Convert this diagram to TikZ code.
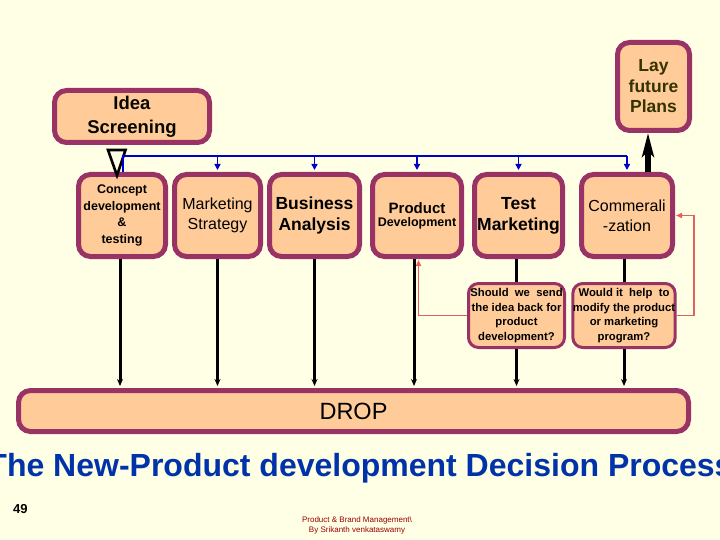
\documentclass[tikz,border=0pt]{standalone}
\usepackage{fontspec}
\setmainfont{Liberation Sans}
\usetikzlibrary{arrows.meta,calc}
\definecolor{bg}{RGB}{255,255,229}
\definecolor{boxfill}{RGB}{255,204,153}
\definecolor{boxbd}{RGB}{153,51,102}
\definecolor{olivetxt}{RGB}{51,51,0}
\definecolor{lineblue}{RGB}{0,0,204}
\definecolor{titleblue}{RGB}{0,51,170}
\definecolor{redline}{RGB}{224,96,96}
\definecolor{footred}{RGB}{153,0,0}
\begin{document}
\begin{tikzpicture}[x=1pt,y=-1pt,
  box/.style={draw=boxbd, fill=boxfill, line width=5pt, rounded corners=12pt, inner sep=0pt, align=center},
  qbox/.style={draw=boxbd, fill=boxfill, line width=3pt, rounded corners=10pt, inner sep=0pt, align=center,
     font=\bfseries\fontsize{11.3}{14.6}\selectfont},
  bluel/.style={draw=lineblue, line width=1.6pt},
  bluetip/.style={-{Triangle[length=6pt,width=6pt]}, shorten >=2pt},
  blk/.style={draw=black, line width=3pt, -{Stealth[length=7pt,width=6pt]}, shorten >=2pt},
  blkplain/.style={draw=black, line width=3pt},
  redl/.style={draw=redline, line width=1.8pt, -{Triangle[length=6pt,width=5pt]}, shorten >=1pt}]
\useasboundingbox (0,0) rectangle (720,540);
\fill[bg] (0,0) rectangle (720,540);
\clip (0,0) rectangle (720,540);

% top boxes
\node[box, minimum width=155pt, minimum height=52pt, text=black!85!olivetxt,
  font=\bfseries\fontsize{18.5}{24}\selectfont] (idea) at (132,116.5) {Idea\\Screening};
\node[box, minimum width=72pt, minimum height=88pt, text=olivetxt,
  font=\bfseries\fontsize{17.5}{20.5}\selectfont] (lay) at (653.5,86.5) {Lay\\future\\Plans};

% row boxes
\node[box, minimum width=87pt, minimum height=82pt, font=\bfseries\fontsize{12.5}{16.5}\selectfont] (concept) at (122,215.5) {Concept\\development\\\&\\testing};
\node[box, minimum width=86pt, minimum height=82pt, font=\fontsize{16}{19.5}\selectfont] (mkt) at (217.5,215.5) {Marketing\\Strategy};
\node[box, minimum width=90pt, minimum height=82pt, font=\bfseries\fontsize{17.5}{21}\selectfont] (bus) at (314.5,215.5) {Business\\Analysis};
\node[box, minimum width=89pt, minimum height=82pt] (prod) at (417,215.5)
  {{\bfseries\fontsize{15}{17}\selectfont Product}\\[1pt]{\bfseries\fontsize{12.5}{15}\selectfont Development}};
\node[box, minimum width=88pt, minimum height=82pt, font=\bfseries\fontsize{17.5}{21}\selectfont] (test) at (518.5,215.5) {Test\\Marketing};
\node[box, minimum width=91pt, minimum height=82pt, font=\fontsize{16}{20}\selectfont] (comm) at (627,215.5) {Commerali\\-zation};

% question boxes
\node[qbox, minimum width=96pt, minimum height=64pt] (should) at (516.5,315.5) {Should~~we~~send\\the idea back for\\product\\development?};
\node[qbox, minimum width=95pt, minimum height=64pt] (would) at (624,315.5) {Would it~~help~~to\\modify the product\\or marketing\\program?};

% drop box
\node[box, minimum width=670pt, minimum height=41pt, font=\fontsize{23.5}{26}\selectfont] (drop) at (353.5,411) {DROP};

% hollow arrow head from Idea Screening to Concept
\draw[line width=2.6pt, line join=miter] (108,150) -- (125.5,150) -- (117,175.5) -- cycle;

% blue distribution line
\coordinate (busL) at (123,156);
\draw[bluel] (busL |- concept.north) -- (busL) -- (busL -| comm.north);
\foreach \n in {mkt,bus,prod,test,comm}
  \draw[bluel,bluetip] (busL -| \n.north) -- (\n.north);

% thick arrow to Lay future Plans
\draw[line width=5.5pt, -{Stealth[length=24pt,width=12pt,inset=6pt]}]
  ([xshift=21pt]comm.north) -- ([xshift=21pt]comm.north |- lay.south);

% black lines down to DROP
\foreach \n/\dx in {concept/-2,mkt/0,bus/0}
  \draw[blk] ([xshift=\dx pt]\n.south) -- ([xshift=\dx pt]\n.south |- drop.north);
\draw[blk] ([xshift=-3pt]prod.south) -- ([xshift=-3pt]prod.south |- drop.north);
\draw[blkplain] (should.north |- test.south) -- (should.north);
\draw[blk] (should.south) -- (should.south |- drop.north);
\draw[blkplain] (would.north |- comm.south) -- (would.north);
\draw[blk] (would.south) -- (would.south |- drop.north);

% red feedback lines
\draw[redl] (should.west) -| ([xshift=1.5pt]prod.south);
\draw[redl] (would.east) -- ++(17,0) |- (comm.east);

% title and footer
\node[anchor=base, text=titleblue, font=\bfseries\fontsize{32}{36}\selectfont] (title) at (360,476)
  {The New-Product development Decision Process};
\node[anchor=base west, font=\bfseries\fontsize{13}{15}\selectfont, inner sep=0pt] (num) at (13,513) {49};
\node[text=footred, font=\fontsize{8}{10}\selectfont, align=center, inner sep=0pt] (foot) at (357,525)
  {Product \& Brand Management\textbackslash\\By Srikanth venkataswamy};
\end{tikzpicture}
\end{document}
